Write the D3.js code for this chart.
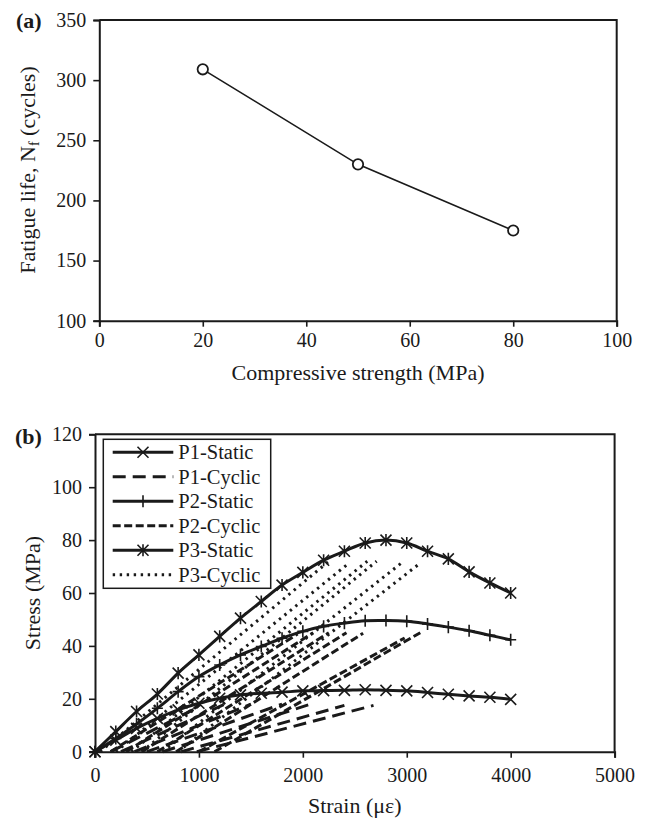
<body style="margin:0;background:#fff"></body>

<script src="https://cdn.jsdelivr.net/npm/d3@7/dist/d3.min.js"></script>
<script>
    // ---- data: (a) fatigue life vs compressive strength
    var strengthMPa = [20, 50, 80];
    var fatigueLife = [309, 230, 175];

    // ---- data: (b) static envelopes, strain grid in microstrain
    var staticStrain = [0, 200, 400, 600, 800, 1000, 1200, 1400, 1600, 1800, 2000,
        2200, 2400, 2600, 2800, 3000, 3200, 3400, 3600, 3800, 4000];
    var p1Static = [0, 4.4, 8.8, 12.6, 15.8, 18.3, 20.2, 21.5, 22.1, 22.5, 23,
        23.1, 23.2, 23.4, 23.2, 23, 22.4, 21.7, 21.1, 20.6, 19.8];
    var p2Static = [0, 5, 10.5, 16.4, 22.7, 28.4, 32.8, 36.6, 39.8, 42.9, 45.5,
        47.4, 48.6, 49.5, 49.6, 49.3, 48.3, 47.1, 45.7, 44, 42.3];
    var p3Static = [0, 7.6, 15.2, 21.8, 29.7, 36.6, 43.6, 50.5, 56.8, 63, 67.8,
        72.4, 75.8, 78.9, 80, 78.9, 75.8, 72.9, 68, 63.8, 60];

    // cyclic load/unload lines: [residual strain, peak strain, peak stress]
    var p1Cyclic = [[150, 1000, 17], [250, 1250, 18], [380, 1500, 18], [500, 1800, 18],
        [650, 2100, 18.3], [830, 2400, 17.5], [980, 2680, 17.5]];
    var p2Cyclic = [[150, 1950, 44.5], [300, 2100, 45], [450, 2250, 45], [600, 2420, 45],
        [780, 2580, 44.8], [1000, 2980, 43], [1150, 3130, 45]];
    var p3Cyclic = [[50, 2250, 72], [200, 2450, 71.5], [350, 2620, 72], [450, 2710, 72],
        [650, 2970, 72], [800, 3110, 70.7]];

    var seriesNames = ['P1-Static', 'P1-Cyclic', 'P2-Static', 'P2-Cyclic', 'P3-Static', 'P3-Cyclic'];

    var width = 645, height = 822;
    var font = '"Liberation Serif", "Times New Roman", serif';
    var ink = '#1a1a1a';

    var svg = d3.select('body').append('svg')
        .attr('width', width).attr('height', height)
        .style('font-family', font);

    function styleAxis(g) {
        g.attr('font-family', font).attr('font-size', 20);
        g.select('.domain').attr('stroke', ink).attr('stroke-width', 2);
        g.selectAll('.tick line').attr('stroke', ink).attr('stroke-width', 1.6);
        g.selectAll('.tick text').attr('fill', ink).style('font-family', font).style('font-size', '20px');
    }

    // ================= chart (a) =================
    var xa = d3.scaleLinear().domain([0, 100]).range([99.3, 616.7]);
    var ya = d3.scaleLinear().domain([100, 350]).range([320.7, 20]);

    svg.append('g').attr('transform', 'translate(0,' + ya(100) + ')')
        .call(d3.axisBottom(xa).tickValues([0, 20, 40, 60, 80, 100]).tickFormat(d3.format('d'))
            .tickSizeOuter(0).tickSize(6).tickPadding(6))
        .call(styleAxis);
    svg.append('g').attr('transform', 'translate(' + xa(0) + ',0)')
        .call(d3.axisLeft(ya).tickValues([100, 150, 200, 250, 300, 350]).tickFormat(d3.format('d'))
            .tickSizeOuter(0).tickSize(6).tickPadding(7))
        .call(styleAxis);
    // box top + right
    svg.append('path')
        .attr('d', 'M' + xa(0) + ',' + ya(350) + 'H' + xa(100) + 'V' + ya(100))
        .attr('fill', 'none').attr('stroke', ink).attr('stroke-width', 2);

    var ptsA = strengthMPa.map(function (s, i) { return [s, fatigueLife[i]]; });
    svg.append('path')
        .attr('d', d3.line().x(function (d) { return xa(d[0]); }).y(function (d) { return ya(d[1]); })(ptsA))
        .attr('fill', 'none').attr('stroke', ink).attr('stroke-width', 1.6);
    svg.selectAll('circle.pa').data(ptsA).join('circle').attr('class', 'pa')
        .attr('cx', function (d) { return xa(d[0]); })
        .attr('cy', function (d) { return ya(d[1]); })
        .attr('r', 5.2).attr('fill', '#fff').attr('stroke', ink).attr('stroke-width', 1.8);

    svg.append('text').attr('x', 358).attr('y', 380).attr('text-anchor', 'middle')
        .style('font-size', '22px').attr('fill', ink).text('Compressive strength (MPa)');
    var ta = svg.append('text').attr('transform', 'translate(35,170) rotate(-90)')
        .attr('text-anchor', 'middle').style('font-size', '22px').attr('fill', ink);
    ta.append('tspan').text('Fatigue life, N');
    ta.append('tspan').attr('dy', 4).style('font-size', '14px').text('f');
    ta.append('tspan').attr('dy', -4).text(' (cycles)');
    svg.append('text').attr('x', 16).attr('y', 28).style('font-size', '22px')
        .style('font-weight', 'bold').attr('fill', ink).text('(a)');

    // ================= chart (b) =================
    var xb = d3.scaleLinear().domain([0, 5000]).range([95, 614.6]);
    var yb = d3.scaleLinear().domain([0, 120]).range([751.7, 434.3]);

    svg.append('g').attr('transform', 'translate(0,' + yb(0) + ')')
        .call(d3.axisBottom(xb).tickValues([0, 1000, 2000, 3000, 4000, 5000]).tickFormat(d3.format('d'))
            .tickSizeOuter(0).tickSize(6).tickPadding(10))
        .call(styleAxis);
    svg.append('g').attr('transform', 'translate(' + xb(0) + ',0)')
        .call(d3.axisLeft(yb).tickValues([0, 20, 40, 60, 80, 100, 120]).tickFormat(d3.format('d'))
            .tickSizeOuter(0).tickSize(6).tickPadding(7))
        .call(styleAxis);
    svg.append('path')
        .attr('d', 'M' + xb(0) + ',' + yb(120) + 'H' + xb(5000) + 'V' + yb(0))
        .attr('fill', 'none').attr('stroke', ink).attr('stroke-width', 2);

    var dashes = { 'P1-Cyclic': '13,7', 'P2-Cyclic': '8,3.5', 'P3-Cyclic': '2.4,4.6' };

    function cyclicPath(segs) {
        return segs.map(function (s) {
            return 'M' + xb(s[0]) + ',' + yb(0) + 'L' + xb(s[1]) + ',' + yb(s[2]);
        }).join('');
    }
    [[p1Cyclic, 'P1-Cyclic'], [p2Cyclic, 'P2-Cyclic'], [p3Cyclic, 'P3-Cyclic']].forEach(function (c) {
        svg.append('path').attr('d', cyclicPath(c[0]))
            .attr('fill', 'none').attr('stroke', ink).attr('stroke-width', 3)
            .attr('stroke-dasharray', dashes[c[1]]);
    });

    function markerPath(type, s) {
        var xm = 'M' + (-s) + ',' + (-s) + 'L' + s + ',' + s + 'M' + (-s) + ',' + s + 'L' + s + ',' + (-s);
        var vm = 'M0,' + (-s * 1.1) + 'L0,' + (s * 1.1);
        if (type === 'x') return xm;
        if (type === 'plus') return vm + 'M' + (-s) + ',0L' + s + ',0';
        return xm + vm;
    }

    var staticSeries = [[p1Static, 'x'], [p2Static, 'plus'], [p3Static, 'star']];
    var line = d3.line().curve(d3.curveCatmullRom.alpha(0.5))
        .x(function (d) { return xb(d[0]); }).y(function (d) { return yb(d[1]); });
    staticSeries.forEach(function (s) {
        var pts = staticStrain.map(function (e, i) { return [e, s[0][i]]; });
        svg.append('path').attr('d', line(pts))
            .attr('fill', 'none').attr('stroke', ink).attr('stroke-width', 3);
        svg.append('g').selectAll('path').data(pts).join('path')
            .attr('transform', function (d) { return 'translate(' + xb(d[0]) + ',' + yb(d[1]) + ')'; })
            .attr('d', markerPath(s[1], 5.5))
            .attr('fill', 'none').attr('stroke', ink).attr('stroke-width', 1.6);
    });

    // legend
    var lg = svg.append('g');
    lg.append('rect').attr('x', 103.3).attr('y', 439.3).attr('width', 167.4).attr('height', 149)
        .attr('fill', '#fff').attr('stroke', ink).attr('stroke-width', 1.5);
    var markerFor = { 'P1-Static': 'x', 'P2-Static': 'plus', 'P3-Static': 'star' };
    seriesNames.forEach(function (name, i) {
        var y = 452.3 + i * 24.5;
        lg.append('line').attr('x1', 112.7).attr('x2', 173.3).attr('y1', y).attr('y2', y)
            .attr('stroke', ink).attr('stroke-width', 3)
            .attr('stroke-dasharray', dashes[name] || null);
        if (markerFor[name]) {
            lg.append('path').attr('transform', 'translate(143,' + y + ')')
                .attr('d', markerPath(markerFor[name], 5.5))
                .attr('fill', 'none').attr('stroke', ink).attr('stroke-width', 1.6);
        }
        lg.append('text').attr('x', 178.3).attr('y', y).attr('dy', '0.35em')
            .style('font-size', '20.5px').attr('fill', ink).text(name);
    });

    svg.append('text').attr('x', 354.8).attr('y', 813).attr('text-anchor', 'middle')
        .style('font-size', '22px').attr('fill', ink).text('Strain (\u03bc\u03b5)');
    svg.append('text').attr('transform', 'translate(40,593) rotate(-90)')
        .attr('text-anchor', 'middle').style('font-size', '22px').attr('fill', ink)
        .text('Stress (MPa)');
    svg.append('text').attr('x', 15).attr('y', 444).style('font-size', '22px')
        .style('font-weight', 'bold').attr('fill', ink).text('(b)');
</script>
